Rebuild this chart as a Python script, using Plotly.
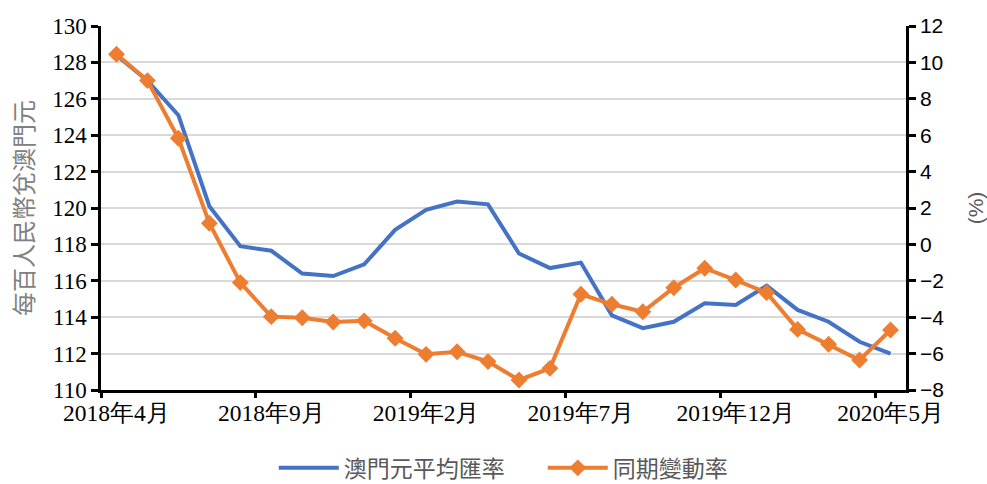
import plotly.graph_objects as go

months = ["2018年4月","2018年5月","2018年6月","2018年7月","2018年8月","2018年9月","2018年10月","2018年11月","2018年12月",
          "2019年1月","2019年2月","2019年3月","2019年4月","2019年5月","2019年6月","2019年7月","2019年8月","2019年9月",
          "2019年10月","2019年11月","2019年12月","2020年1月","2020年2月","2020年3月","2020年4月","2020年5月"]
rate = [128.4,127.0,125.1,120.1,117.9,117.65,116.4,116.26,116.9,118.8,119.9,120.35,120.2,
        117.5,116.7,117.0,114.1,113.4,113.75,114.76,114.67,115.73,114.4,113.75,112.65,112.0]
change = [10.45,9.0,5.83,1.16,-2.1,-3.97,-4.03,-4.26,-4.2,-5.16,-6.04,-5.9,-6.44,
          -7.45,-6.81,-2.74,-3.29,-3.7,-2.38,-1.31,-1.96,-2.65,-4.67,-5.49,-6.35,-4.7]
label_every = 5
left_ticks = list(range(110, 131, 2))
right_ticks = list(range(-8, 13, 2))

x = list(range(len(months)))
tickvals = x[::label_every]
ticktext = months[::label_every]
bounds = [v - 0.5 for v in tickvals]

serif = "Liberation Serif, Times New Roman, serif"
sans = "Liberation Sans, Arial, sans-serif"
cjk = "Noto Sans CJK TC"

fig = go.Figure()
fig.add_trace(go.Scatter(x=x, y=rate, name="澳門元平均匯率", mode="lines",
                         line=dict(color="#4472C4", width=4), yaxis="y"))
fig.add_trace(go.Scatter(x=x, y=change, name="同期變動率", mode="lines+markers",
                         line=dict(color="#ED7D31", width=4),
                         marker=dict(symbol="diamond", size=13, color="#ED7D31"), yaxis="y2"))
fig.add_trace(go.Scatter(x=[bounds[0]], y=[None], xaxis="x2", showlegend=False, hoverinfo="skip"))

fig.update_layout(
    width=987, height=484,
    margin=dict(l=101, r=81, t=26, b=94, autoexpand=False),
    plot_bgcolor="white", paper_bgcolor="white",
    showlegend=True,
    legend=dict(orientation="h", x=(274 - 101) / 806, xanchor="left", y=-0.214, yanchor="middle",
                font=dict(family=cjk, size=23, color="#595959"),
                tracegroupgap=0, itemwidth=60, entrywidth=194, entrywidthmode="pixels"),
    xaxis=dict(range=[-0.5, len(months) - 0.5], tickvals=tickvals, ticktext=ticktext,
               ticks="", showgrid=False, showline=True, linecolor="black", linewidth=2.5,
               tickfont=dict(family=serif, size=23.5, color="black"), zeroline=False, automargin=False),
    xaxis2=dict(overlaying="x", range=[-0.5, len(months) - 0.5], tickvals=bounds,
                showticklabels=False, ticks="outside", ticklen=7, tickwidth=2.5, tickcolor="black",
                showgrid=False, showline=False, zeroline=False, side="bottom", anchor="y", automargin=False),
    yaxis=dict(range=[110, 130], tickvals=left_ticks, ticks="outside", ticklen=7, tickwidth=2.5,
               tickcolor="black", showline=True, linecolor="black", linewidth=2.5,
               gridcolor="#D9D9D9", gridwidth=2, zeroline=False, automargin=False,
               tickfont=dict(family=serif, size=23, color="black"),
               title=dict(text="每百人民幣兌澳門元", font=dict(family=cjk, size=24, color="#808080"),
                          standoff=12)),
    yaxis2=dict(range=[-8, 12], tickvals=right_ticks, overlaying="y", side="right",
                ticks="outside", ticklen=7, tickwidth=2.5, tickcolor="black", automargin=False,
                showline=True, linecolor="black", linewidth=2.5, showgrid=False, zeroline=False,
                tickfont=dict(family=sans, size=21, color="black"),
                title=dict(text="(%)", font=dict(family=sans, size=21, color="#595959"),
                           standoff=26)),
)

fig.write_html("out.html", config={"displayModeBar": False},
               post_script="document.body.style.margin='0';document.body.style.overflow='hidden';")
